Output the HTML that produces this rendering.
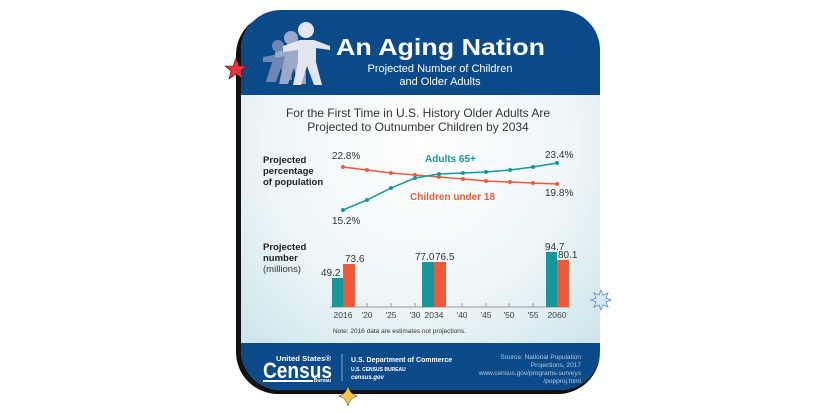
<!DOCTYPE html>
<html><head><meta charset="utf-8"><style>
html,body{margin:0;padding:0;background:#fff;}
body{width:828px;height:414px;position:relative;overflow:hidden;font-family:"Liberation Sans",sans-serif;}
</style></head><body>
<svg width="828" height="414" viewBox="0 0 828 414" style="position:absolute;left:0;top:0">
<defs>
<radialGradient id="bg" cx="0.5" cy="0.35" r="0.7">
<stop offset="0" stop-color="#ffffff"/><stop offset="0.6" stop-color="#eef6f8"/><stop offset="1" stop-color="#cfe6ec"/>
</radialGradient>
<clipPath id="card"><rect x="241" y="10" width="359" height="380" rx="40"/></clipPath>
</defs>
<rect x="236" y="13" width="364" height="381" rx="42" fill="#111"/>
<g clip-path="url(#card)">
<rect x="241" y="10" width="359" height="380" fill="url(#bg)"/>
<rect x="241" y="10" width="359" height="85" fill="#0b4a88"/>
<rect x="241" y="343" width="359" height="47" fill="#0b4a88"/>
</g>
<g fill="#6f86b3"><circle cx="278" cy="46" r="6"/><path d="M263 57 L290 52 L292 80 L286 80 L281 68 L276 82 L266 82 L272 62 L263 62Z"/></g>
<g fill="#9aa9c8"><circle cx="291" cy="38" r="7"/><path d="M275 52 L305 46 L306 84 L298 84 L294 68 L288 84 L279 84 L285 56 L275 58Z"/></g>
<g fill="#e3e6ee"><circle cx="306" cy="30" r="8"/><path d="M283 46 L300 40 L314 40 L330 46 L330 50 L316 48 L316 62 L322 85 L314 85 L307 66 L301 85 L293 85 L298 62 L298 50 L283 52Z"/></g>
<text x="336" y="55" fill="#fff" font-size="23" font-weight="bold" textLength="209" lengthAdjust="spacingAndGlyphs">An Aging Nation</text>
<text x="440" y="72" fill="#fff" font-size="11" text-anchor="middle">Projected Number of Children</text>
<text x="440" y="85" fill="#fff" font-size="11" text-anchor="middle">and Older Adults</text>
<text x="418" y="117" fill="#333" font-size="12" text-anchor="middle">For the First Time in U.S. History Older Adults Are</text>
<text x="418" y="131" fill="#333" font-size="12" text-anchor="middle">Projected to Outnumber Children by 2034</text>
<g font-size="9.5" font-weight="bold" fill="#222">
<text x="263" y="163">Projected</text><text x="263" y="174">percentage</text><text x="263" y="185">of population</text>
<text x="263" y="250">Projected</text><text x="263" y="261">number</text>
</g>
<text x="263" y="272" font-size="9.5" fill="#333">(millions)</text>
<polyline fill="none" stroke="#f05a3a" stroke-width="1.5" points="343,167 367,170 391,173 415,175 439,177 463,179 486,181 510,182 533,183 557,184"/>
<g fill="#f05a3a"><circle cx="343" cy="167" r="2"/><circle cx="367" cy="170" r="2"/><circle cx="391" cy="173" r="2"/><circle cx="415" cy="175" r="2"/><circle cx="439" cy="177" r="2"/><circle cx="463" cy="179" r="2"/><circle cx="486" cy="181" r="2"/><circle cx="510" cy="182" r="2"/><circle cx="533" cy="183" r="2"/><circle cx="557" cy="184" r="2"/></g>
<polyline fill="none" stroke="#14989a" stroke-width="1.5" points="343,210 367,200 391,188 415,178 439,174 463,173 486,172 510,170 533,167 557,163"/>
<g fill="#14989a"><circle cx="343" cy="210" r="2"/><circle cx="367" cy="200" r="2"/><circle cx="391" cy="188" r="2"/><circle cx="415" cy="178" r="2"/><circle cx="439" cy="174" r="2"/><circle cx="463" cy="173" r="2"/><circle cx="486" cy="172" r="2"/><circle cx="510" cy="170" r="2"/><circle cx="533" cy="167" r="2"/><circle cx="557" cy="163" r="2"/></g>
<g font-size="10" fill="#333"><text x="332" y="159">22.8%</text><text x="332" y="224">15.2%</text><text x="545" y="158">23.4%</text><text x="545" y="196">19.8%</text></g>
<text x="425" y="162" font-size="10" font-weight="bold" fill="#14989a">Adults 65+</text>
<text x="410" y="200" font-size="10" font-weight="bold" fill="#f05a3a">Children under 18</text>
<line x1="330" y1="307" x2="570" y2="307" stroke="#999" stroke-width="1"/>
<g stroke="#999"><line x1="367" y1="303" x2="367" y2="307"/><line x1="391" y1="303" x2="391" y2="307"/><line x1="415" y1="303" x2="415" y2="307"/><line x1="462" y1="303" x2="462" y2="307"/><line x1="486" y1="303" x2="486" y2="307"/><line x1="509" y1="303" x2="509" y2="307"/><line x1="533" y1="303" x2="533" y2="307"/></g>
<rect x="332" y="278" width="11" height="29" fill="#14989a"/><rect x="343" y="264" width="12" height="43" fill="#f05a3a"/>
<rect x="422" y="262" width="12" height="45" fill="#14989a"/><rect x="434" y="262" width="12" height="45" fill="#f05a3a"/>
<rect x="546" y="252" width="11" height="55" fill="#14989a"/><rect x="557" y="260" width="12" height="47" fill="#f05a3a"/>
<g font-size="10" fill="#333"><text x="321" y="276">49.2</text><text x="345" y="262">73.6</text><text x="415" y="260">77.0</text><text x="435" y="260">76.5</text><text x="545" y="250">94.7</text><text x="558" y="258">80.1</text></g>
<g font-size="8.5" fill="#444" text-anchor="middle"><text x="343" y="318">2016</text><text x="367" y="318">'20</text><text x="391" y="318">'25</text><text x="415" y="318">'30</text><text x="434" y="318">2034</text><text x="462" y="318">'40</text><text x="486" y="318">'45</text><text x="509" y="318">'50</text><text x="533" y="318">'55</text><text x="557" y="318">2060</text></g>
<text x="333" y="333" font-size="6.5" fill="#333">Note: 2016 data are estimates not projections.</text>
<text x="276" y="361" font-size="7.5" font-weight="bold" fill="#fff" textLength="55" lengthAdjust="spacingAndGlyphs">United States®</text>
<text x="263" y="378" font-size="22" font-weight="bold" fill="#fff" textLength="69" lengthAdjust="spacingAndGlyphs">Census</text>
<rect x="263" y="380" width="50" height="2" fill="#fff"/>
<text x="331" y="382" font-size="5" font-weight="bold" fill="#fff" text-anchor="end">Bureau</text>
<line x1="342" y1="354" x2="342" y2="381" stroke="#8fa6c8" stroke-width="1"/>
<text x="351" y="362" font-size="7" font-weight="bold" fill="#fff">U.S. Department of Commerce</text>
<text x="351" y="371" font-size="5" font-weight="bold" fill="#fff">U.S. CENSUS BUREAU</text>
<text x="351" y="379" font-size="6" font-weight="bold" font-style="italic" fill="#fff">census.gov</text>
<g font-size="6.5" fill="#b9c8dd" text-anchor="end"><text x="581" y="359">Source: National Population</text><text x="581" y="367">Projections, 2017</text><text x="581" y="375">www.census.gov/programs-surveys</text><text x="581" y="383">/popproj.html</text></g>
<polygon points="236,58 239,66 247,66 241,71 243,79 236,74 229,79 231,71 225,66 233,66" fill="#e8333a" stroke="#222" stroke-width="0.6"/>
<polygon points="601,290 603,295 608,293 606,298 611,300 606,302 608,307 603,305 601,310 599,305 594,307 596,302 591,300 596,298 594,293 599,295" fill="#d6e8f8" stroke="#5c88c8" stroke-width="0.8"/>
<path d="M348,386 Q350,394 357,396 Q350,398 348,406 Q346,398 339,396 Q346,394 348,386Z" fill="#f5c54a" stroke="#333" stroke-width="0.5"/>
</svg>
</body></html>
